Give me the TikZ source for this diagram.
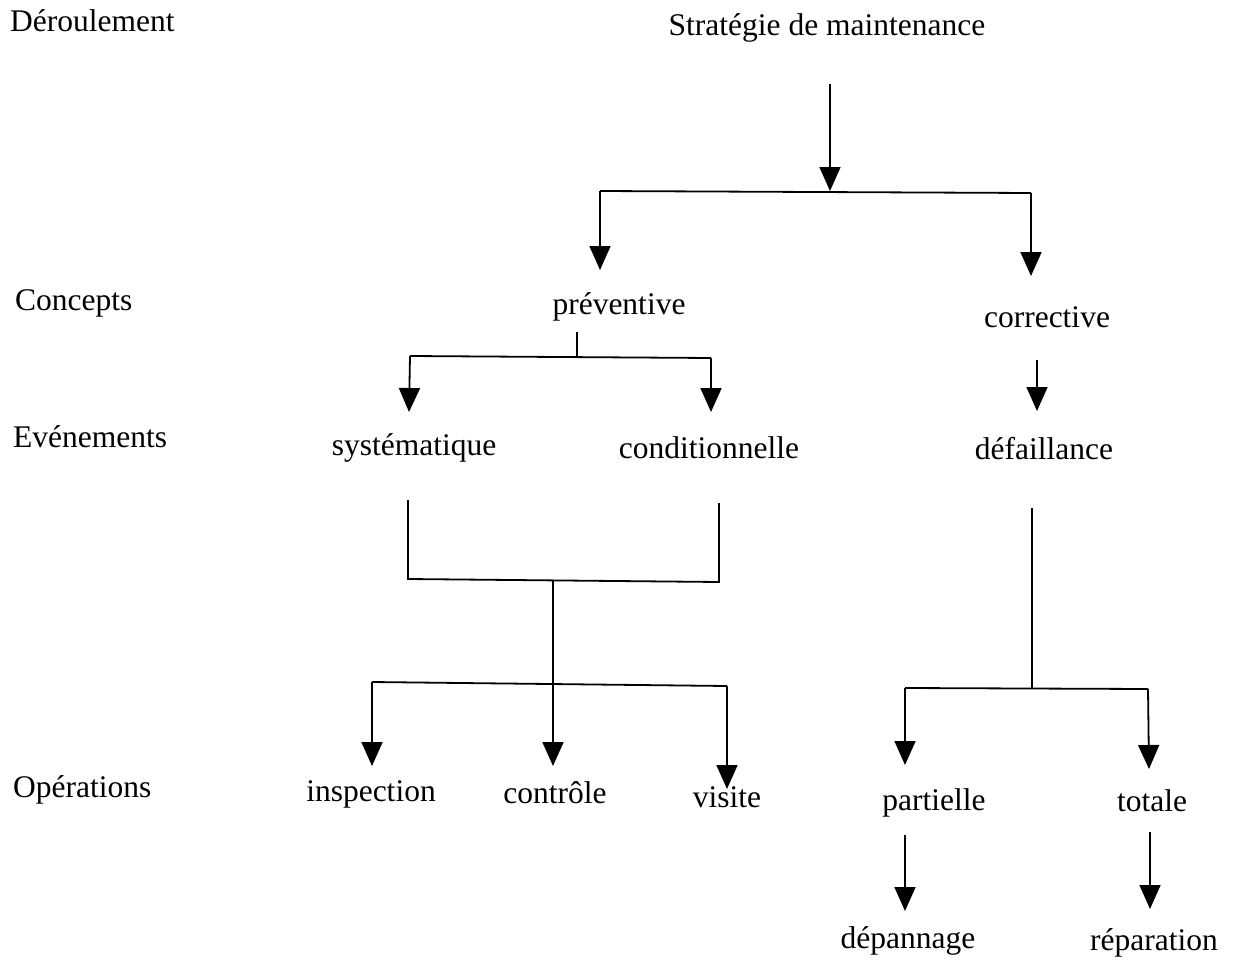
\documentclass[tikz,border=0pt]{standalone}
\usepackage{fontspec}
\setmainfont{Liberation Serif}
\usetikzlibrary{arrows.meta}
\begin{document}
\begin{tikzpicture}[x=1pt,y=-1pt,
  lbl/.style={inner sep=0pt,anchor=base,font=\fontsize{31.5}{36}\selectfont},
  row/.style={inner sep=0pt,anchor=base west,font=\fontsize{31.5}{36}\selectfont},
  wire/.style={line width=1.8pt},
  arr/.style={wire,-{Triangle[width=21pt,length=24pt]}}]
\useasboundingbox (0,0) rectangle (1235,961);
% row titles
\node[row] (r1) at (10,31) {Déroulement};
\node[row] (r2) at (15,310) {Concepts};
\node[row] (r3) at (13,447) {Evénements};
\node[row] (r4) at (13,797) {Opérations};
% tree labels
\node[lbl] (strat) at (827,35) {Stratégie de maintenance};
\node[lbl] (prev) at (619,314) {préventive};
\node[lbl] (corr) at (1047,327) {corrective};
\node[lbl] (syst) at (414,455) {systématique};
\node[lbl] (cond) at (709,458) {conditionnelle};
\node[lbl] (def) at (1044,459) {défaillance};
\node[lbl] (insp) at (371,801) {inspection};
\node[lbl] (ctrl) at (555,803) {contrôle};
\node[lbl] (vis) at (727,807) {visite};
\node[lbl] (part) at (934,810) {partielle};
\node[lbl] (tot) at (1152,811) {totale};
\node[lbl] (dep) at (908,948) {dépannage};
\node[lbl] (rep) at (1154,950) {réparation};
% junction points
\coordinate (s0) at (830,84);
\coordinate (s1) at (830,191);
\coordinate (sL) at (600,191);
\coordinate (sR) at (1031,193);
\coordinate (pL) at (600,270);
\coordinate (cR) at (1031,276);
\coordinate (p0) at (577,332);
\coordinate (p1) at (577,356);
\coordinate (pa) at (410,356);
\coordinate (pb) at (711,358);
\coordinate (sy) at (409,412);
\coordinate (co) at (711,412);
\coordinate (c0) at (1037,360);
\coordinate (c1) at (1037,411);
\coordinate (e1) at (408,500);
\coordinate (e2) at (408,579);
\coordinate (e3) at (719,503);
\coordinate (e4) at (719,582);
\coordinate (m0) at (553,580);
\coordinate (m1) at (553,684);
\coordinate (mL) at (372,682);
\coordinate (mR) at (727,686);
\coordinate (oI) at (372,766);
\coordinate (oC) at (553,766);
\coordinate (oV) at (727,789);
\coordinate (d0) at (1032,508);
\coordinate (d1) at (1032,688);
\coordinate (dL) at (905,688);
\coordinate (dR) at (1148,689);
\coordinate (oP) at (905,765);
\coordinate (oT) at (1149,769);
\coordinate (q0) at (905,835);
\coordinate (q1) at (905,911);
\coordinate (t0) at (1150,832);
\coordinate (t1) at (1150,909);
% strategy split
\draw[arr] (s0) -- (s1);
\draw[wire] (sL) -- (sR);
\draw[arr] (sL) -- (pL);
\draw[arr] (sR) -- (cR);
% preventive branch
\draw[wire] (p0) -- (p1);
\draw[wire] (pa) -- (pb);
\draw[arr] (pa) -- (sy);
\draw[arr] (pb) -- (co);
% corrective branch
\draw[arr] (c0) -- (c1);
% merge of both preventive events
\draw[wire] (e1) -- (e2) -- (e4) -- (e3);
\draw[wire] (m0) -- (m1);
\draw[wire] (mL) -- (mR);
\draw[arr] (mL) -- (oI);
\draw[arr] (m1) -- (oC);
\draw[arr] (mR) -- (oV);
% failure split
\draw[wire] (d0) -- (d1);
\draw[wire] (dL) -- (dR);
\draw[arr] (dL) -- (oP);
\draw[arr] (dR) -- (oT);
\draw[arr] (q0) -- (q1);
\draw[arr] (t0) -- (t1);
\end{tikzpicture}
\end{document}
